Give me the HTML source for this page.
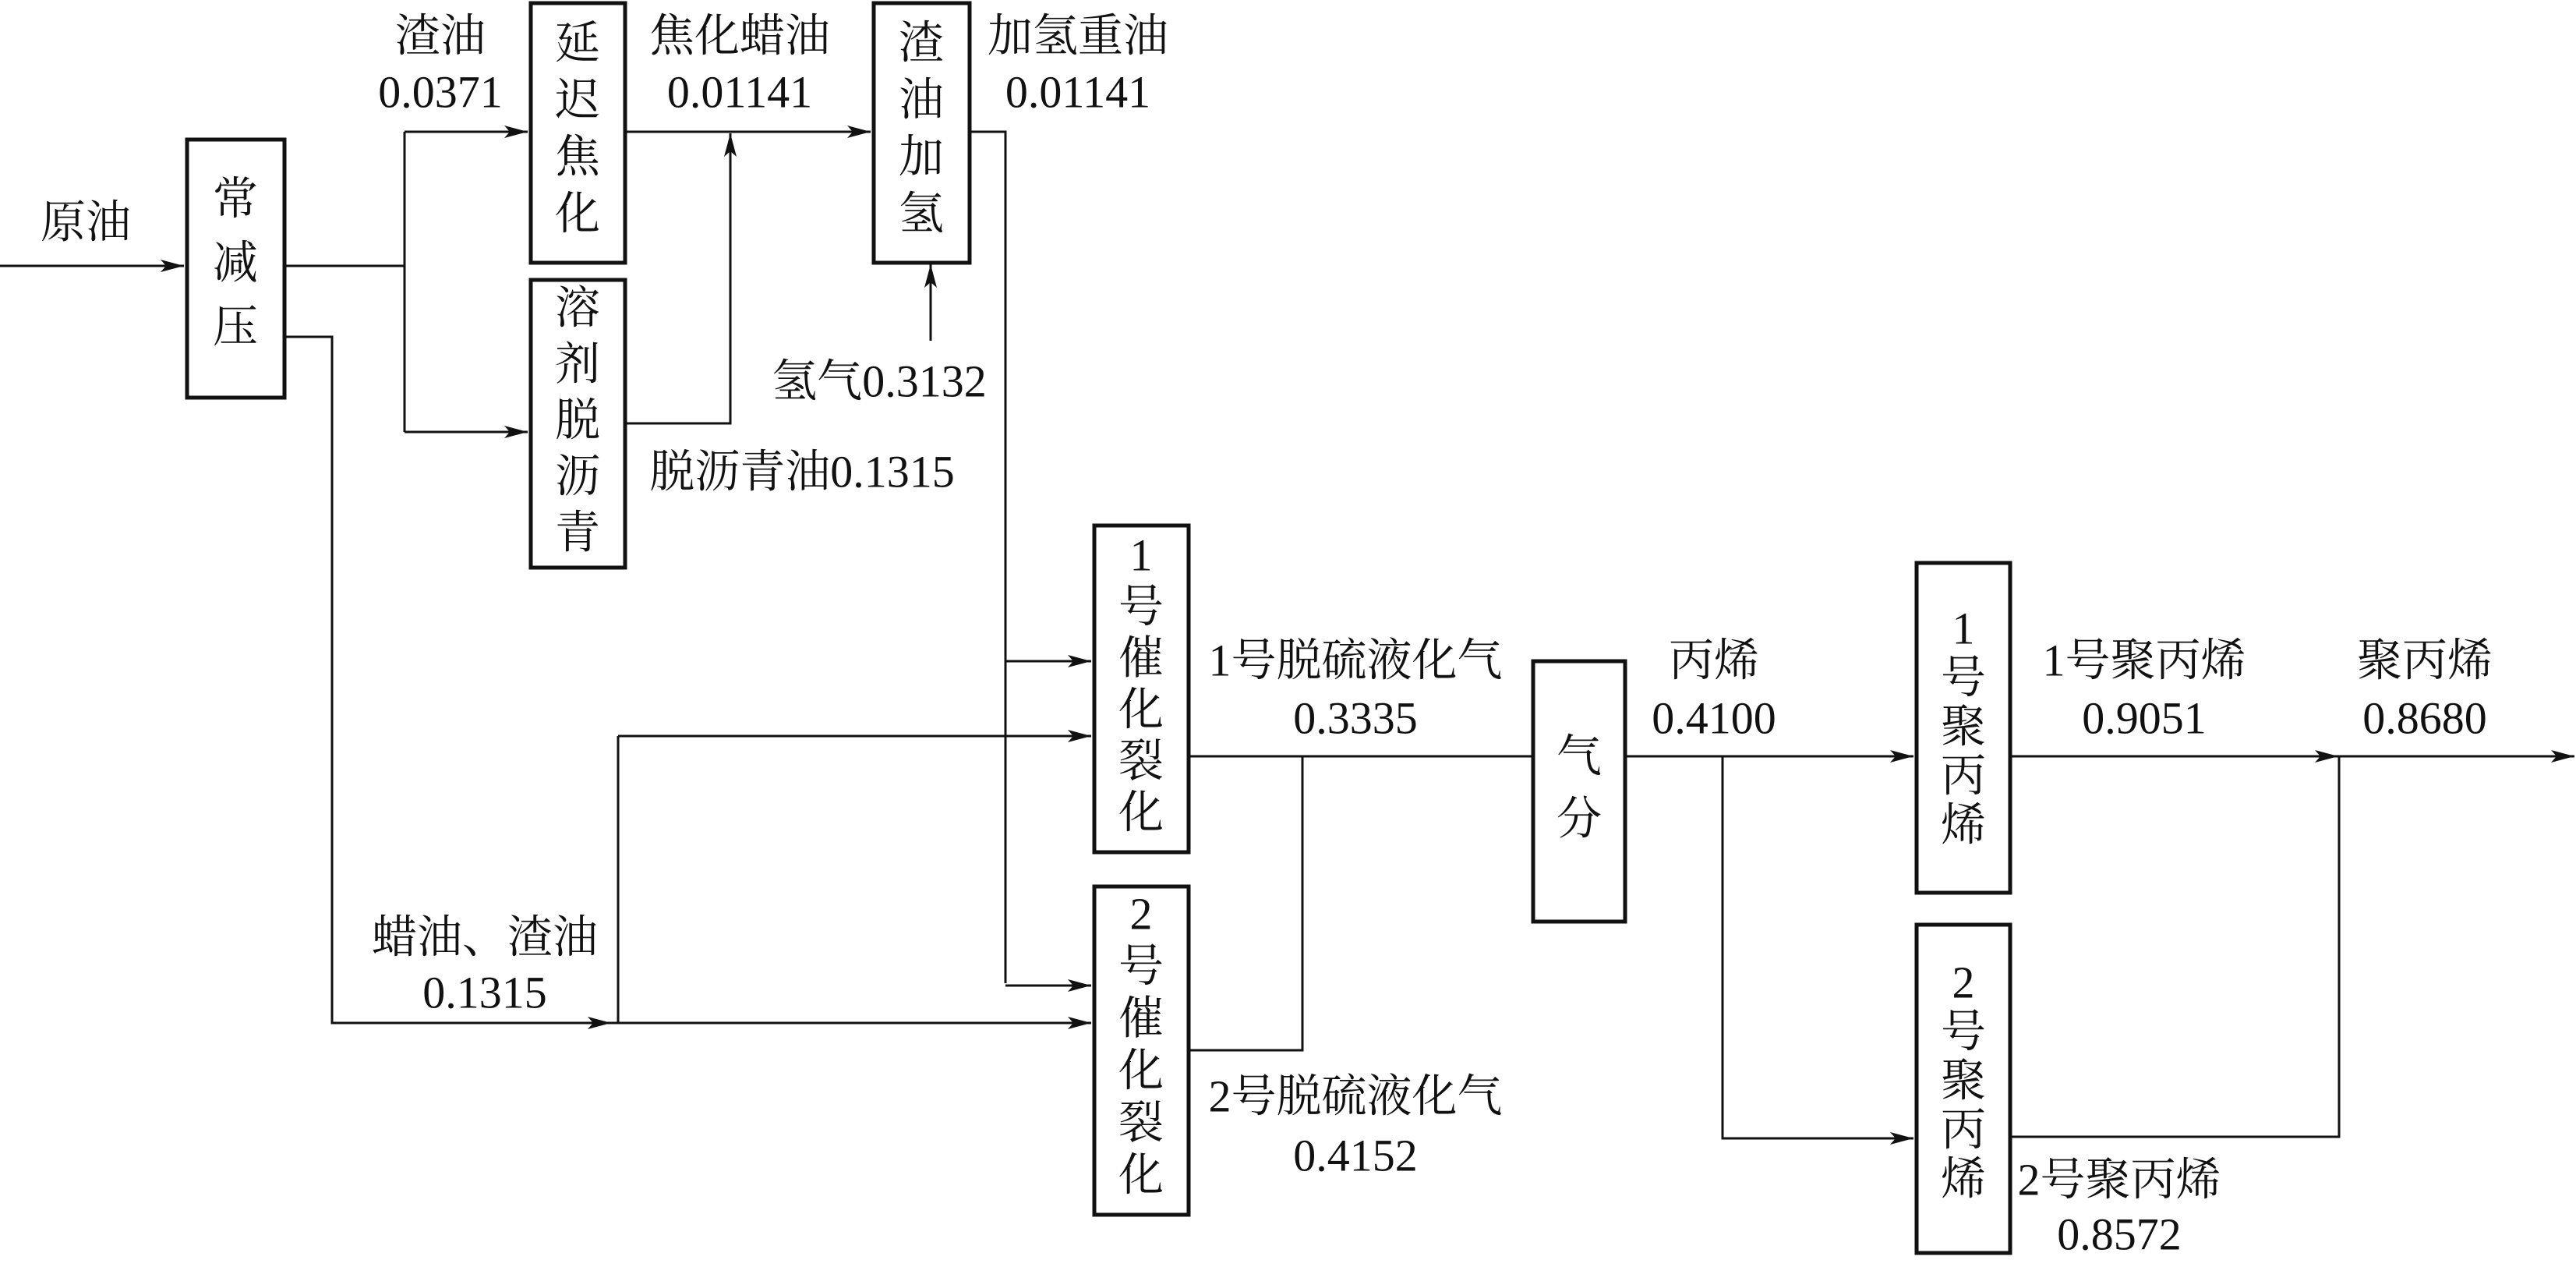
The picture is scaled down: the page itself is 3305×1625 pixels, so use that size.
<!DOCTYPE html>
<html><head><meta charset="utf-8"><style>
html,body{margin:0;padding:0;background:#fff;}
svg{display:block}
text{font-family:"Liberation Serif","Noto Serif CJK SC",serif;font-size:58px;fill:#111;}
</style></head><body>
<svg width="3305" height="1625" viewBox="0 0 3305 1625" xmlns="http://www.w3.org/2000/svg">
<defs>
<marker id="a" viewBox="0 0 30 16" refX="30" refY="8" markerWidth="30" markerHeight="16" markerUnits="userSpaceOnUse" orient="auto">
<path d="M0,0 L30,8 L0,16 L7,8 Z" fill="#111"/>
</marker>
</defs>
<g fill="none" stroke="#111" stroke-width="3">
<line x1="0" y1="341" x2="236" y2="341" marker-end="url(#a)"/>
<polyline points="366,341 519,341"/>
<polyline points="519,169 519,554"/>
<line x1="519" y1="169" x2="677" y2="169" marker-end="url(#a)"/>
<line x1="519" y1="554" x2="677" y2="554" marker-end="url(#a)"/>
<line x1="802" y1="169" x2="1117" y2="169" marker-end="url(#a)"/>
<polyline points="802,543 937,543 937,171" marker-end="url(#a)"/>
<line x1="1194" y1="437" x2="1194" y2="339" marker-end="url(#a)"/>
<polyline points="1245,169 1290,169 1290,1261"/>
<line x1="1290" y1="848" x2="1400" y2="848" marker-end="url(#a)"/>
<line x1="1290" y1="1264" x2="1400" y2="1264" marker-end="url(#a)"/>
<polyline points="366,432 426,432 426,1312 784,1312"/>
<line x1="700" y1="1312" x2="784" y2="1312" marker-end="url(#a)"/>
<line x1="784" y1="1312" x2="1400" y2="1312" marker-end="url(#a)"/>
<polyline points="793,1312 793,944"/>
<line x1="793" y1="944" x2="1400" y2="944" marker-end="url(#a)"/>
<line x1="1526" y1="970" x2="1965" y2="970"/>
<polyline points="1526,1347 1671,1347 1671,970"/>
<line x1="2086" y1="970" x2="2455" y2="970" marker-end="url(#a)"/>
<polyline points="2210,970 2210,1460 2455,1460" marker-end="url(#a)"/>
<line x1="2580" y1="970" x2="3000" y2="970" marker-end="url(#a)"/>
<line x1="3000" y1="970" x2="3303" y2="970" marker-end="url(#a)"/>
<polyline points="2580,1458 3001,1458 3001,970"/>
</g>
<g fill="#fff" stroke="#111" stroke-width="5">
<rect x="240" y="179" width="125" height="331"/>
<rect x="681" y="4" width="121" height="333"/>
<rect x="681" y="359" width="121" height="369"/>
<rect x="1121" y="4" width="123" height="333"/>
<rect x="1404" y="674" width="121" height="419"/>
<rect x="1404" y="1137" width="121" height="421"/>
<rect x="1967" y="848" width="118" height="334"/>
<rect x="2459" y="722" width="120" height="423"/>
<rect x="2459" y="1186" width="120" height="421"/>
</g>
<g text-anchor="middle" dominant-baseline="central">
<text x="302" y="255">常</text><text x="302" y="337">减</text><text x="302" y="419">压</text>
<text x="741" y="55">延</text><text x="741" y="128">迟</text><text x="741" y="201">焦</text><text x="741" y="274">化</text>
<text x="741" y="395">溶</text><text x="741" y="467">剂</text><text x="741" y="539">脱</text><text x="741" y="611">沥</text><text x="741" y="683">青</text>
<text x="1182" y="55">渣</text><text x="1182" y="128">油</text><text x="1182" y="201">加</text><text x="1182" y="274">氢</text>
<text x="1464" y="712">1</text><text x="1464" y="778">号</text><text x="1464" y="844">催</text><text x="1464" y="910">化</text><text x="1464" y="976">裂</text><text x="1464" y="1042">化</text>
<text x="1464" y="1172">2</text><text x="1464" y="1239">号</text><text x="1464" y="1306">催</text><text x="1464" y="1373">化</text><text x="1464" y="1440">裂</text><text x="1464" y="1507">化</text>
<text x="2026" y="970">气</text><text x="2026" y="1050">分</text>
<text x="2519" y="806">1</text><text x="2519" y="869">号</text><text x="2519" y="932">聚</text><text x="2519" y="995">丙</text><text x="2519" y="1058">烯</text>
<text x="2519" y="1260">2</text><text x="2519" y="1323">号</text><text x="2519" y="1386">聚</text><text x="2519" y="1449">丙</text><text x="2519" y="1512">烯</text>
<text x="110" y="285">原油</text>
<text x="565" y="46">渣油</text><text x="565" y="118">0.0371</text>
<text x="949" y="46">焦化蜡油</text><text x="949" y="118">0.01141</text>
<text x="1383" y="46">加氢重油</text><text x="1383" y="118">0.01141</text>
<text x="1128" y="489">氢气0.3132</text>
<text x="1029" y="605">脱沥青油0.1315</text>
<text x="622" y="1202">蜡油、渣油</text><text x="622" y="1273">0.1315</text>
<text x="1739" y="847">1号脱硫液化气</text><text x="1739" y="921">0.3335</text>
<text x="1739" y="1406">2号脱硫液化气</text><text x="1739" y="1482">0.4152</text>
<text x="2199" y="847">丙烯</text><text x="2199" y="921">0.4100</text>
<text x="2751" y="847">1号聚丙烯</text><text x="2751" y="921">0.9051</text>
<text x="3111" y="847">聚丙烯</text><text x="3111" y="921">0.8680</text>
<text x="2719" y="1513">2号聚丙烯</text><text x="2719" y="1583">0.8572</text>
</g>
</svg>
</body></html>
